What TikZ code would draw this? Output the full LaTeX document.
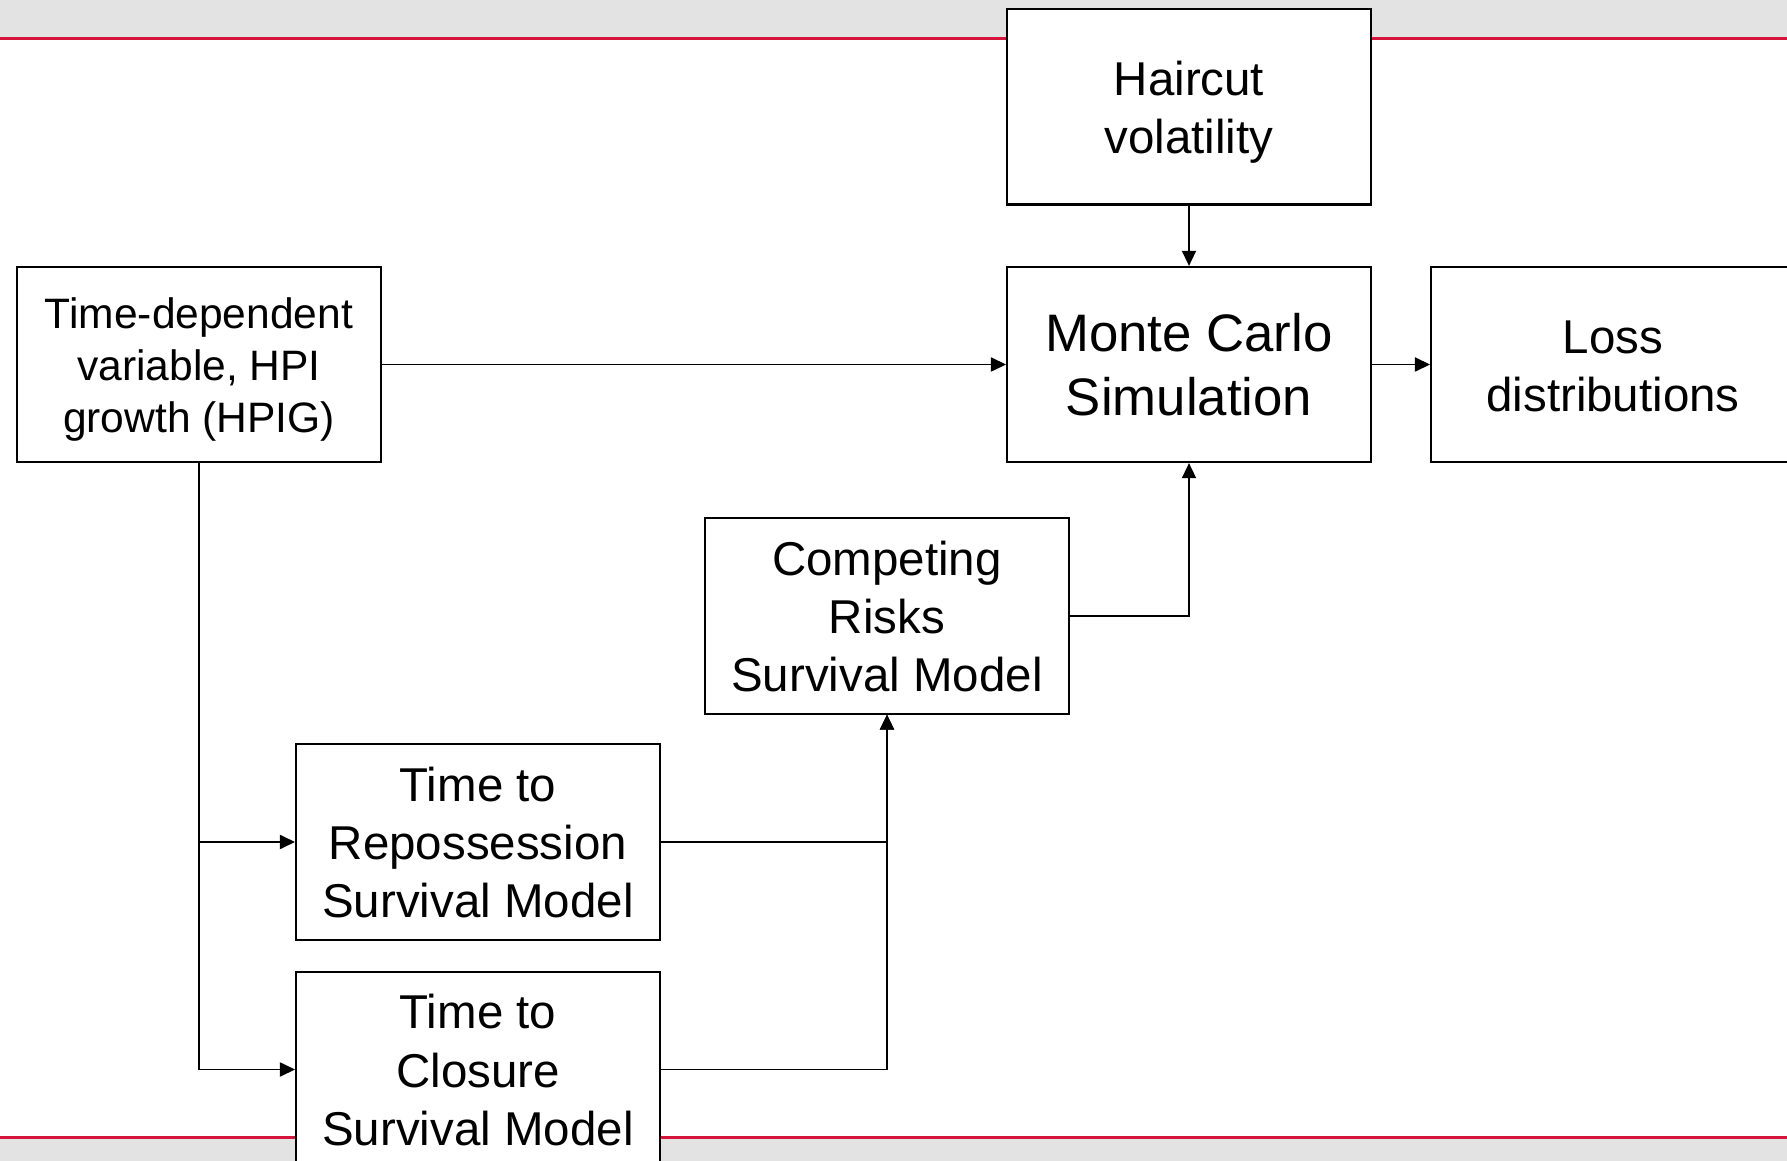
\documentclass[tikz,border=0pt]{standalone}
\usepackage{fontspec}
\setmainfont{Liberation Sans}
\usetikzlibrary{arrows.meta}
\definecolor{bandgray}{HTML}{E3E3E3}
\definecolor{bandred}{HTML}{D7143C}
\newcommand\topstrut{\rule{0pt}{0.95em}}
\newcommand\botstrut{\rule[-0.212em]{0pt}{0pt}}
\begin{document}
\begin{tikzpicture}[x=0.01cm, y=-0.01cm,
        box/.style={draw, fill=white, line width=0.6pt, inner sep=0pt,
                    minimum width=3.636cm, minimum height=1.95cm, align=center,
                    font=\fontsize{13.5}{16.5}\selectfont,
                    execute at end node=\botstrut},
        arrow/.style={line width=0.5pt, -{Triangle[length=4.3pt, width=4pt]}}]
                \useasboundingbox (0, 0) rectangle (1787, 1161);
                \clip (0, 0) rectangle (1787, 1161);

                \fill[bandgray] (0, 0) rectangle (1787, 37.5);
                \draw[bandred, line width=0.6pt] (0, 38.5) -- (1787, 38.5);
                \fill[bandgray] (0, 1138.5) rectangle (1787, 1161);
                \draw[bandred, line width=0.6pt] (0, 1137.5) -- (1787, 1137.5);

                \node[box, font=\fontsize{12.1}{14.8}\selectfont] (hpig) at (199, 364.5) {\topstrut Time-dependent\\variable, HPI\\growth (HPIG)};
                \node[box] (haircut) at (1189, 107) {\topstrut Haircut\\volatility};
                \node[box, font=\fontsize{15}{18.2}\selectfont] (mc) at (1189, 364.5) {\topstrut Monte Carlo\\Simulation};
                \node[box] (loss) at (1613, 364.5) {\topstrut Loss\\distributions};
                \node[box] (risks) at (887, 616) {\topstrut Competing\\Risks\\Survival Model};
                \node[box] (repo) at (478, 842) {\topstrut Time to\\Repossession\\Survival Model};
                \node[box] (clos) at (478, 1069.5) {\topstrut Time to\\Closure\\Survival Model};

                \draw[arrow] (hpig) -- (mc);
                \draw[arrow] (haircut) -- (mc);
                \draw[arrow] (mc) -- (loss);
                \draw[arrow] (risks.east) -| (mc.south);

                \draw[arrow] (hpig.south) |- (repo.west);
                \draw[arrow] (hpig.south) |- (clos.west);
                \draw[arrow] (repo.east) -| (risks.south);
                \draw[arrow] (clos.east) -| (risks.south);
\end{tikzpicture}
\end{document}
